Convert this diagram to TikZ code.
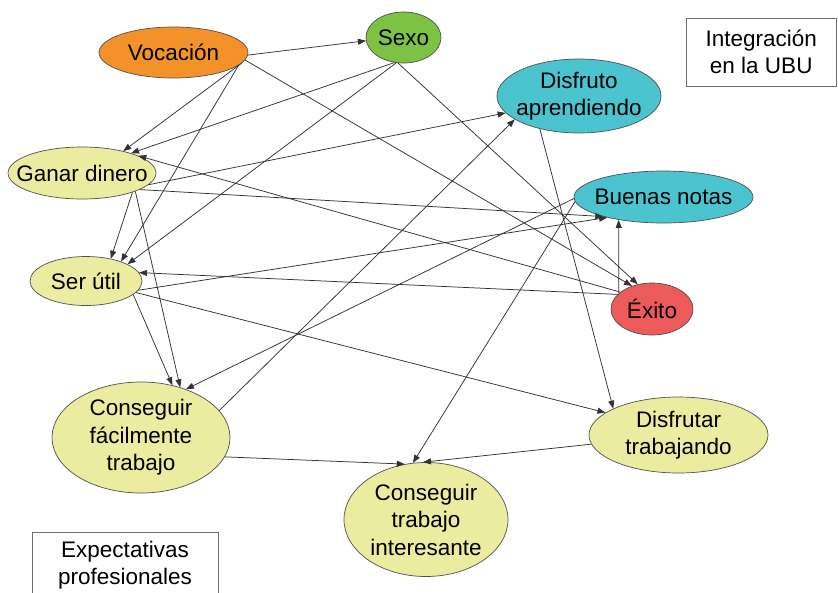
\documentclass[tikz,border=0pt]{standalone}
\usepackage{fontspec}
\setmainfont{Liberation Sans}
\usetikzlibrary{shapes.geometric,arrows.meta}
\definecolor{cOrange}{RGB}{242,146,40}
\definecolor{cGreen}{RGB}{125,194,66}
\definecolor{cCyan}{RGB}{75,196,207}
\definecolor{cRed}{RGB}{237,90,90}
\definecolor{cYellow}{RGB}{236,236,160}
\definecolor{cEdge}{RGB}{80,80,80}
\definecolor{cLine}{RGB}{50,50,50}
\definecolor{cBox}{RGB}{110,110,110}
\begin{document}
\begin{tikzpicture}[x=1pt,y=-1pt,
  txt/.style={font=\fontsize{22.5}{27.5}\selectfont,align=center,inner sep=0pt,text=black},
  el/.style={ellipse,draw=cEdge,line width=0.7pt,inner sep=0pt,label={[txt]center:#1}},
  lab/.style={rectangle,draw=cBox,line width=0.8pt,inner sep=0pt,txt},
  con/.style={-{Triangle[length=8pt,width=6pt]},draw=cLine,line width=0.75pt}]
\useasboundingbox (0,0) rectangle (838,592);
\fill[white] (0,0) rectangle (838,592);

% nodes
\node[el={Vocación},fill=cOrange,minimum width=149pt,minimum height=51pt] (voc) at (173.5,52.5) {};
\node[el={Sexo},fill=cGreen,minimum width=75pt,minimum height=51pt] (sexo) at (403.5,37.5) {};
\node[el={Disfruto\\aprendiendo},fill=cCyan,minimum width=164pt,minimum height=74pt] (disA) at (579,96) {};
\node[el={Buenas notas},fill=cCyan,minimum width=179pt,minimum height=52pt] (bn) at (663.5,197) {};
\node[el={Ganar dinero},fill=cYellow,minimum width=148pt,minimum height=52pt] (gd) at (82,173) {};
\node[el={Ser útil},fill=cYellow,minimum width=112pt,minimum height=49pt] (su) at (86,281) {};
\node[el={Éxito},fill=cRed,minimum width=82pt,minimum height=52pt] (exito) at (652,309) {};
\node[el={Conseguir\\fácilmente\\trabajo},fill=cYellow,minimum width=178pt,minimum height=111pt] (cft) at (141,437.5) {};
\node[el={Disfrutar\\trabajando},fill=cYellow,minimum width=179pt,minimum height=76pt] (dt) at (678.5,435) {};
\node[el={Conseguir\\trabajo\\interesante},fill=cYellow,minimum width=164pt,minimum height=114pt] (cti) at (426,519.5) {};

\node[lab,minimum width=150.5pt,minimum height=68pt] (ubu) at (761.25,52) {Integración\\en la UBU};
\node[lab,minimum width=186pt,minimum height=66pt] (exp) at (125,565) {Expectativas\\profesionales};

% connectors
\draw[con] (voc.-2) -- (sexo.185);
\draw[con] (voc.-9) -- (gd.28);
\draw[con] (voc.-11) -- (su.29);
\draw[con] (voc.-6) -- (exito.131);
\draw[con] (sexo.250) -- (gd.22);
\draw[con] (sexo.254) -- (su.22);
\draw[con] (sexo.258) -- (exito.120);
\draw[con] (gd.-21) -- (su.42);
\draw[con] (gd.-19) -- (cft.52);
\draw[con] (gd.-16) -- (bn.198);
\draw[con] (gd.-10) -- (disA.193);
\draw[con] (exito.152) -- (gd.17.6);
\draw[con] (exito.157) -- (su.9.5);
\draw[con] (exito.155) -- (bn.207);
\draw[con] (su.-16) -- (cft.59);
\draw[con] (su.-13) -- (dt.163);
\draw[con] (su.-10) -- (bn.200);
\draw[con] (bn.181) -- (cft.47);
\draw[con] (bn.183) -- (cti.103);
\draw[con] (disA.220) -- (dt.158);
\draw[con] (cft.19) -- (disA.200);
\draw[con] (cft.-13) -- (cti.111);
\draw[con] (dt.186) -- (cti.93);
\end{tikzpicture}
\end{document}
